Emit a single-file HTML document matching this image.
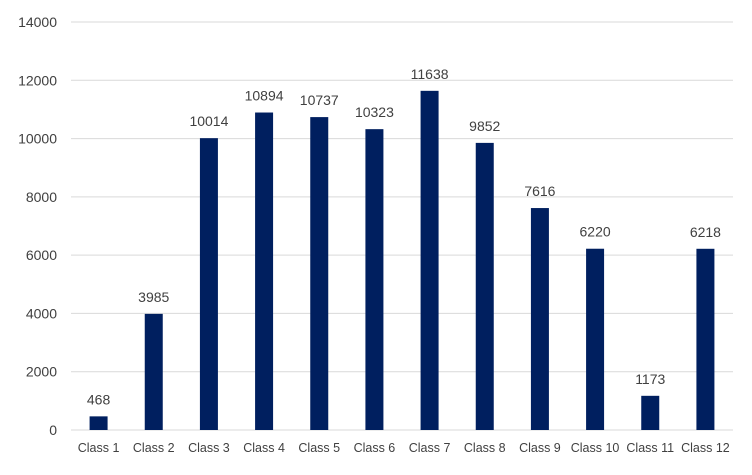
<!DOCTYPE html>
<html><head><meta charset="utf-8"><style>
body{margin:0;background:#fff;}
svg text{font-family:"Liberation Sans",sans-serif;fill:#404040;}
</style></head><body>
<svg width="752" height="470">
<g id="grid"></g><g id="bars"></g><g id="labels"></g>
</svg>
<script>
const categories=["Class 1","Class 2","Class 3","Class 4","Class 5","Class 6","Class 7","Class 8","Class 9","Class 10","Class 11","Class 12"];
const values=[468,3985,10014,10894,10737,10323,11638,9852,7616,6220,1173,6218];
const yTicks=[0,2000,4000,6000,8000,10000,12000,14000];
const L=71,R=733,T=22,B=430,maxV=14000;
const y=v=>B-(v/maxV)*(B-T);
const band=(R-L)/categories.length;
const x=i=>L+band*(i+0.5);
const ns="http://www.w3.org/2000/svg";
const g=document.getElementById('grid'),bg=document.getElementById('bars'),lg=document.getElementById('labels');
function mk(t,a,p){const e=document.createElementNS(ns,t);for(const k in a)e.setAttribute(k,a[k]);p.appendChild(e);return e;}
yTicks.forEach(v=>{
 const l=mk('line',{x1:L,x2:R,y1:y(v),y2:y(v),stroke:'#d9d9d9','stroke-width':1},g);
 
 
 const t=mk('text',{x:57,y:y(v)+5,'text-anchor':'end','font-size':14},g);
 t.textContent=v;
 
 
});
categories.forEach((c,i)=>{
 const bw=18;
 const r=mk('rect',{x:x(i)-bw/2,y:y(values[i]),width:bw,height:B-y(values[i]),fill:'#001f5f'},bg);
 
 
 const vt=mk('text',{x:x(i),y:y(values[i])-12,'text-anchor':'middle','font-size':14},lg);
 vt.textContent=values[i];
 
 
 const ct=mk('text',{x:x(i),y:452,'text-anchor':'middle','font-size':12.5},lg);
 ct.textContent=c;
 
 
});
</script>
</body></html>
